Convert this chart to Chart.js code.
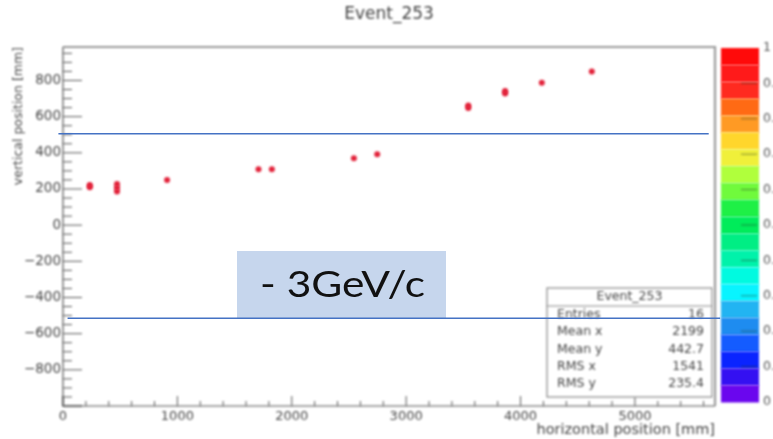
<!DOCTYPE html>
<html>
<head>
<meta charset="utf-8">
<script src="https://cdn.jsdelivr.net/npm/chart.js@4/dist/chart.umd.min.js"></script>
<style>
  html, body { margin: 0; padding: 0; background: #fff; overflow: hidden; }
  #wrap { position: relative; width: 773px; height: 439px; }
</style>
</head>
<body>
<div id="wrap"><canvas id="c" width="773" height="439"></canvas></div>
<script>
// Hits of Event_253: horizontal / vertical position in mm
const hitX = [234, 234, 472, 472, 472, 910, 1709, 1826, 2543, 2747, 3543, 3543, 3865, 3865, 4186, 4623];
const hitY = [222, 210, 228, 207, 186, 249, 309, 309, 370, 392, 648, 662, 728, 742, 788, 849];

// Axis ranges and labelled ticks (mm)
const xRange = [0, 5700];
const yRange = [-1000, 985];
const xTickValues = [0, 1000, 2000, 3000, 4000, 5000];
const yTickValues = [-800, -600, -400, -200, 0, 200, 400, 600, 800];

// Statistics box
const statTitle = 'Event_253';
const statNames = ['Entries', 'Mean x', 'Mean y', 'RMS x', 'RMS y'];
const statValues = ['16', '2199', '442.7', '1541', '235.4'];

// Colour scale labels, top to bottom
const paletteLabels = ['1', '0.9', '0.8', '0.7', '0.6', '0.5', '0.4', '0.3', '0.2', '0.1', '0'];
const paletteBands = ['#ff0a0a', '#ff1a1a', '#ff2a20', '#ff6a14', '#ff9a24', '#ffd62c',
  '#f0f03a', '#b0ff3c', '#70fa3c', '#1ef046', '#00ec5a', '#00ee84', '#00f2aa', '#00fae0',
  '#08f4ff', '#22b4f2', '#1e8cf0', '#145cff', '#0a24ff', '#3410f2', '#6a06ee'];

// Momentum cut levels (vertical position, mm) with their horizontal extent
const cutLevels = [505, -515];
const cutFrom = [-40, 40];
const cutTo = [5645, 5745];
const cutLabel = '- 3GeV/c';

const FONT = 'DejaVu Sans';
const INK = '#444';
const SOFT = 'blur(0.8px)';

const rootStyle = {
  id: 'rootStyle',
  beforeDraw(chart) {
    chart.ctx.filter = SOFT;
  },
  afterDraw(chart) {
    const ctx = chart.ctx;
    const a = chart.chartArea;
    const xs = chart.scales.x, ys = chart.scales.y;

    ctx.save();
    ctx.filter = SOFT;

    // frame
    ctx.strokeStyle = '#9a9a9a';
    ctx.lineWidth = 2.2;
    ctx.beginPath();
    ctx.moveTo(a.left, a.top); ctx.lineTo(a.right, a.top); ctx.lineTo(a.right, a.bottom);
    ctx.stroke();
    ctx.strokeStyle = '#555';
    ctx.lineWidth = 1.2;
    ctx.beginPath();
    ctx.moveTo(a.left, a.top); ctx.lineTo(a.left, a.bottom); ctx.lineTo(a.right, a.bottom);
    ctx.stroke();

    // inward ticks on the left axis
    ctx.lineWidth = 1;
    ctx.beginPath();
    for (let v = -1000; v <= yRange[1]; v += 50) {
      const p = ys.getPixelForValue(v);
      const len = v % 200 === 0 ? 19 : 9;
      ctx.moveTo(a.left, p); ctx.lineTo(a.left + len, p);
    }
    // inward ticks on the bottom axis
    for (let v = 0; v <= xRange[1]; v += 200) {
      const p = xs.getPixelForValue(v);
      const len = v % 1000 === 0 ? 10 : 5;
      ctx.moveTo(p, a.bottom); ctx.lineTo(p, a.bottom - len);
    }
    ctx.stroke();

    // title
    ctx.fillStyle = INK;
    ctx.font = '17px "' + FONT + '"';
    ctx.textAlign = 'center';
    ctx.textBaseline = 'middle';
    ctx.fillText(statTitle, (a.left + a.right) / 2, a.top - 32);

    // colour scale
    const barL = a.right + 6, barR = a.right + 44;
    const barT = a.top + 1, barB = a.bottom - 4;
    const bandH = (barB - barT) / paletteBands.length;
    paletteBands.forEach((c, i) => {
      ctx.fillStyle = c;
      ctx.fillRect(barL, barT + i * bandH, barR - barL, bandH + 0.5);
    });
    ctx.font = '12.5px "' + FONT + '"';
    ctx.textAlign = 'left';
    ctx.strokeStyle = 'rgba(40,60,40,0.55)';
    const step = (barB - barT) / (paletteLabels.length - 1);
    paletteLabels.forEach((t, i) => {
      const y = barT + i * step;
      ctx.fillStyle = '#555';
      ctx.fillText(t, barR + 4, y);
      if (i > 0 && i < paletteLabels.length - 1) {
        ctx.beginPath(); ctx.moveTo(barR - 18, y); ctx.lineTo(barR - 2, y); ctx.stroke();
      }
    });

    // statistics box
    const bL = a.right - 168, bR = a.right - 3, bT = a.top + 241, bB = a.bottom - 9;
    ctx.fillStyle = '#fff';
    ctx.fillRect(bL, bT, bR - bL, bB - bT);
    ctx.strokeStyle = '#888';
    ctx.lineWidth = 1.2;
    ctx.strokeRect(bL, bT, bR - bL, bB - bT);
    ctx.beginPath(); ctx.moveTo(bL, bT + 18); ctx.lineTo(bR, bT + 18); ctx.stroke();
    ctx.fillStyle = INK;
    ctx.font = '12.5px "' + FONT + '"';
    ctx.textAlign = 'center';
    ctx.fillText(statTitle, (bL + bR) / 2, bT + 9);
    statNames.forEach((n, i) => {
      const y = bT + 27 + i * 17.2;
      ctx.textAlign = 'left';
      ctx.fillText(n, bL + 10, y);
      ctx.textAlign = 'right';
      ctx.fillText(statValues[i], bR - 8, y);
    });
    ctx.restore();

    // sharp overlay: label box and cut lines
    ctx.save();
    ctx.filter = 'none';
    const boxL = 237, boxR = 446, boxT = 251, boxB = 318;
    ctx.fillStyle = '#c6d6ed';
    ctx.fillRect(boxL, boxT, boxR - boxL, boxB - boxT);
    ctx.fillStyle = '#111';
    ctx.font = '37px Lato';
    ctx.textAlign = 'left';
    ctx.textBaseline = 'alphabetic';
    const w = ctx.measureText(cutLabel).width;
    ctx.save();
    ctx.translate(260, 297);
    ctx.scale(165 / w, 1);
    ctx.fillText(cutLabel, 0, 0);
    ctx.restore();

    ctx.strokeStyle = '#4472c4';
    ctx.lineWidth = 1.6;
    cutLevels.forEach((lv, i) => {
      const y = ys.getPixelForValue(lv);
      ctx.beginPath();
      ctx.moveTo(xs.getPixelForValue(cutFrom[i]), y);
      ctx.lineTo(xs.getPixelForValue(cutTo[i]), y);
      ctx.stroke();
    });
    ctx.restore();
  },
  afterRender(chart) {
    chart.ctx.filter = 'none';
  }
};

new Chart(document.getElementById('c'), {
  type: 'scatter',
  data: {
    datasets: [{
      data: hitX.map((x, i) => ({ x: x, y: hitY[i] })),
      pointStyle: 'circle',
      pointRadius: 3,
      pointHoverRadius: 3,
      pointBackgroundColor: '#e2223a',
      pointBorderWidth: 0
    }]
  },
  options: {
    responsive: false,
    animation: false,
    events: [],
    layout: { padding: { top: 47, right: 58, left: 0, bottom: 0 } },
    plugins: { legend: { display: false }, tooltip: { enabled: false } },
    scales: {
      x: {
        type: 'linear', min: xRange[0], max: xRange[1],
        grid: { display: false, drawTicks: false },
        border: { display: false },
        afterBuildTicks: s => { s.ticks = xTickValues.map(v => ({ value: v })); },
        ticks: {
          autoSkip: false, maxRotation: 0,
          padding: 3, color: INK, font: { family: FONT, size: 13 },
          callback: v => String(v)
        },
        title: {
          display: true, text: 'horizontal position [mm]', align: 'end',
          color: INK, font: { family: FONT, size: 14.5 }, padding: 0
        },
        afterFit: s => { s.height = 33; }
      },
      y: {
        type: 'linear', min: yRange[0], max: yRange[1],
        grid: { display: false, drawTicks: false },
        border: { display: false },
        afterBuildTicks: s => { s.ticks = yTickValues.map(v => ({ value: v })); },
        ticks: {
          autoSkip: false,
          padding: 2, color: INK, font: { family: FONT, size: 13.5 },
          callback: v => (v < 0 ? '\u2212' + Math.abs(v) : String(v))
        },
        title: {
          display: true, text: 'vertical position [mm]', align: 'end',
          color: INK, font: { family: FONT, size: 12.5 }, padding: { top: 11, bottom: 0 }
        },
        afterFit: s => { s.width = 63; }
      }
    }
  },
  plugins: [rootStyle]
});
</script>
</body>
</html>
